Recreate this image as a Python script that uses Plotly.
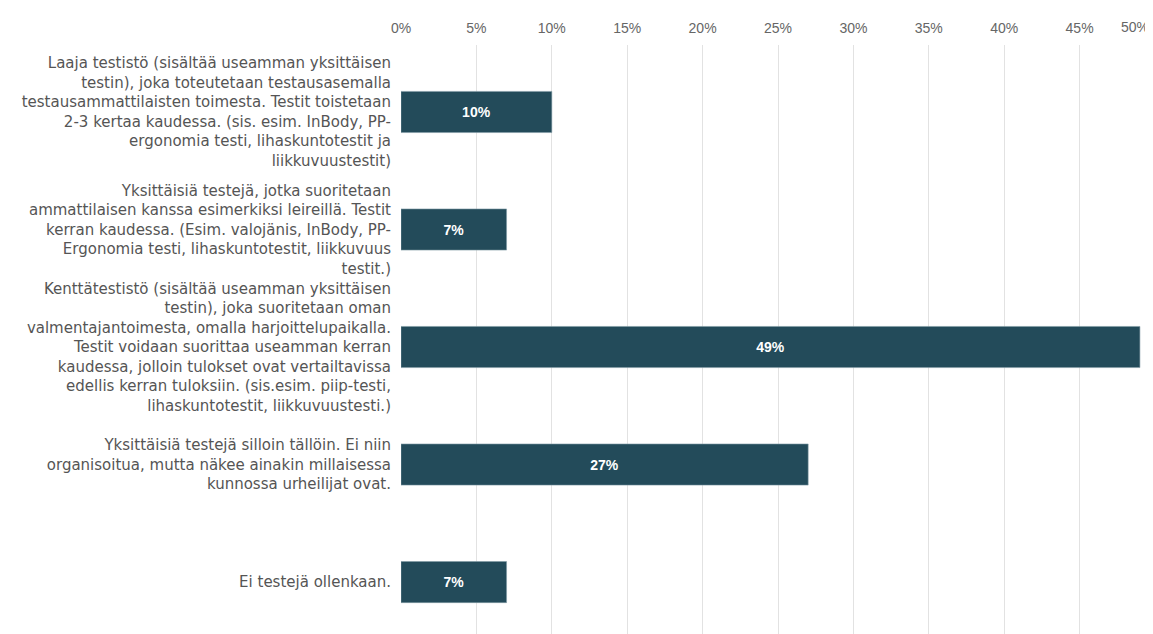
import plotly.graph_objects as go

categories = [
    "Laaja testistö (sisältää useamman yksittäisen<br>testin), joka toteutetaan testausasemalla<br>testausammattilaisten toimesta. Testit toistetaan<br>2-3 kertaa kaudessa. (sis. esim. InBody, PP-<br>ergonomia testi, lihaskuntotestit ja<br>liikkuvuustestit)",
    "Yksittäisiä testejä, jotka suoritetaan<br>ammattilaisen kanssa esimerkiksi leireillä. Testit<br>kerran kaudessa. (Esim. valojänis, InBody, PP-<br>Ergonomia testi, lihaskuntotestit, liikkuvuus<br>testit.)",
    "Kenttätestistö (sisältää useamman yksittäisen<br>testin), joka suoritetaan oman<br>valmentajantoimesta, omalla harjoittelupaikalla.<br>Testit voidaan suorittaa useamman kerran<br>kaudessa, jolloin tulokset ovat vertailtavissa<br>edellis kerran tuloksiin. (sis.esim. piip-testi,<br>lihaskuntotestit, liikkuvuustesti.)",
    "Yksittäisiä testejä silloin tällöin. Ei niin<br>organisoitua, mutta näkee ainakin millaisessa<br>kunnossa urheilijat ovat.",
    "Ei testejä ollenkaan.",
]
values = [10, 7, 49, 27, 7]
tick_vals = [0, 5, 10, 15, 20, 25, 30, 35, 40, 45]
tick_text = ["0%", "5%", "10%", "15%", "20%", "25%", "30%", "35%", "40%", "45%"]

fig = go.Figure(go.Bar(
    x=values,
    y=list(range(len(categories))),
    orientation="h",
    width=0.35,
    marker=dict(color="#234b5a", line=dict(color="#7f9aa5", width=0.6)),
    text=[f"{v}%" for v in values],
    textposition="inside",
    insidetextanchor="middle",
    textfont=dict(color="white", size=14, family="Liberation Sans, Arial, sans-serif", weight="bold"),
    hoverinfo="skip",
))

fig.update_layout(
    width=1153, height=634,
    margin=dict(l=393, r=6, t=37, b=0),
    plot_bgcolor="white", paper_bgcolor="white",
    showlegend=False,
    font=dict(family="Liberation Sans, Arial, sans-serif", size=13, color="#555555"),
    xaxis=dict(
        side="top", range=[0, 50], tickvals=tick_vals, ticktext=tick_text,
        showgrid=True, gridcolor="#e2e2e2", gridwidth=1,
        zeroline=False, showline=False, ticks="", ticklabelstandoff=8,
        tickfont=dict(size=14, color="#666666"),
    ),
    yaxis=dict(
        range=[4.51, -0.57], tickvals=list(range(len(categories))), ticktext=categories,
        showgrid=False, zeroline=False, showline=False, ticks="", ticklabelstandoff=9,
        tickfont=dict(size=15, color="#555555", family="DejaVu Sans, sans-serif"),
    ),
    annotations=[dict(text="50%", xref="paper", yref="paper", x=1.0, y=1.0,
                      xanchor="right", yanchor="bottom", yshift=8, xshift=-4,
                      showarrow=False, font=dict(size=14, color="#666666"))],
)

fig.write_html("out.html")
